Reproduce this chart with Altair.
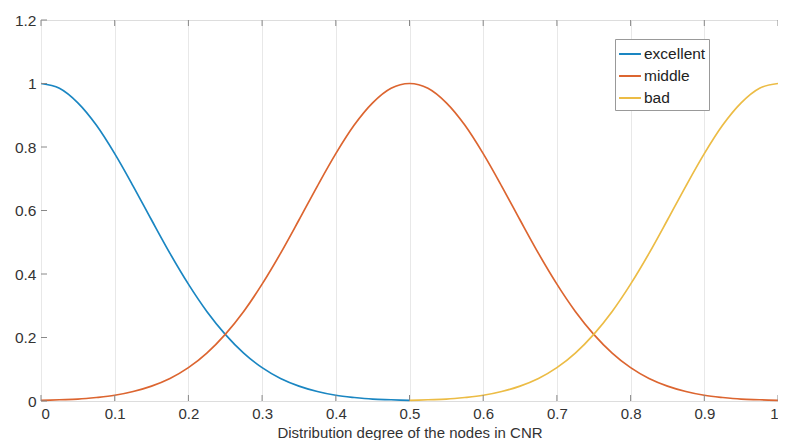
import altair as alt
import pandas as pd

# x positions (step 0.025)
x_exc = [i * 0.025 for i in range(21)]
x_mid = [i * 0.025 for i in range(41)]
x_bad = [0.5 + i * 0.025 for i in range(21)]

excellent = [1.000, 0.985, 0.939, 0.869, 0.779, 0.677, 0.570, 0.465, 0.368, 0.282,
             0.210, 0.151, 0.105, 0.071, 0.047, 0.030, 0.018, 0.011, 0.006, 0.004, 0.002]
middle = [0.002, 0.004, 0.006, 0.011, 0.018, 0.030, 0.047, 0.071, 0.105, 0.151,
          0.210, 0.282, 0.368, 0.465, 0.570, 0.677, 0.779, 0.869, 0.939, 0.985,
          1.000,
          0.985, 0.939, 0.869, 0.779, 0.677, 0.570, 0.465, 0.368, 0.282, 0.210,
          0.151, 0.105, 0.071, 0.047, 0.030, 0.018, 0.011, 0.006, 0.004, 0.002]
bad = [0.002, 0.004, 0.006, 0.011, 0.018, 0.030, 0.047, 0.071, 0.105, 0.151,
       0.210, 0.282, 0.368, 0.465, 0.570, 0.677, 0.779, 0.869, 0.939, 0.985, 1.000]

series_names = ["excellent", "middle", "bad"]
series_colors = ["#1a86c2", "#dc6530", "#ecbc45"]

x_ticks = [0, 0.1, 0.2, 0.3, 0.4, 0.5, 0.6, 0.7, 0.8, 0.9, 1.0]
y_ticks = [0, 0.2, 0.4, 0.6, 0.8, 1.0, 1.2]

rows = []
for name, xs, ys in [("excellent", x_exc, excellent), ("middle", x_mid, middle), ("bad", x_bad, bad)]:
    for i, (xv, yv) in enumerate(zip(xs, ys)):
        rows.append({"x": xv, "y": yv, "series": name, "order": i})
df = pd.DataFrame(rows)

W, H = 737, 381
font = "Liberation Sans"
txt = "#333333"

xscale = alt.Scale(domain=[0, 1], nice=False, zero=False)
yscale = alt.Scale(domain=[0, 1.2], nice=False)

lines = alt.Chart(df).mark_line(strokeWidth=1.7, interpolate="monotone").encode(
    x=alt.X("x:Q", scale=xscale,
            axis=alt.Axis(values=x_ticks, format="~g", title="Distribution degree of the nodes in CNR",
                          grid=True, gridColor="#e8e8e8", gridWidth=1, ticks=False, domain=False,
                          labelFont=font, labelFontSize=15, labelColor=txt, labelPadding=5,
                          titleFont=font, titleFontSize=15, titleFontWeight="normal", titleColor=txt,
                          titleY=36, titleBaseline="alphabetic")),
    y=alt.Y("y:Q", scale=yscale,
            axis=alt.Axis(values=y_ticks, format="~g", title=None, grid=False, ticks=False, domain=False,
                          labelFont=font, labelFontSize=15.5, labelColor=txt, labelPadding=5)),
    color=alt.Color("series:N", scale=alt.Scale(domain=series_names, range=series_colors),
                    legend=alt.Legend(title=None, orient="none", legendX=574, legendY=19,
                                      symbolType="stroke", symbolSize=480, symbolStrokeWidth=2,
                                      labelFont=font, labelFontSize=15.5, labelColor="#222",
                                      strokeColor="#999", fillColor="white", padding=3,
                                      rowPadding=1, labelOffset=2)),
    order="order:Q",
)

xt = pd.DataFrame({"t": x_ticks})
yt = pd.DataFrame({"t": y_ticks})

bot_ticks = alt.Chart(xt).mark_rule(color="#888", strokeWidth=1).encode(
    x=alt.X("t:Q", scale=xscale), y=alt.value(H), y2=alt.value(H - 6))
top_ticks = alt.Chart(xt).mark_rule(color="#888", strokeWidth=1).encode(
    x=alt.X("t:Q", scale=xscale), y=alt.value(0), y2=alt.value(6))
left_ticks = alt.Chart(yt).mark_rule(color="#888", strokeWidth=1).encode(
    y=alt.Y("t:Q", scale=yscale), x=alt.value(0), x2=alt.value(6))

chart = alt.layer(lines, bot_ticks, top_ticks, left_ticks).properties(
    width=W, height=H,
    autosize=alt.AutoSizeParams(type="none"),
    padding={"left": 33, "top": 12, "right": 0, "bottom": 39},
).configure_view(stroke="#8a8a8a", strokeWidth=1).configure(background="white")

chart.save("out.html", embed_options={"renderer": "svg", "actions": False})
